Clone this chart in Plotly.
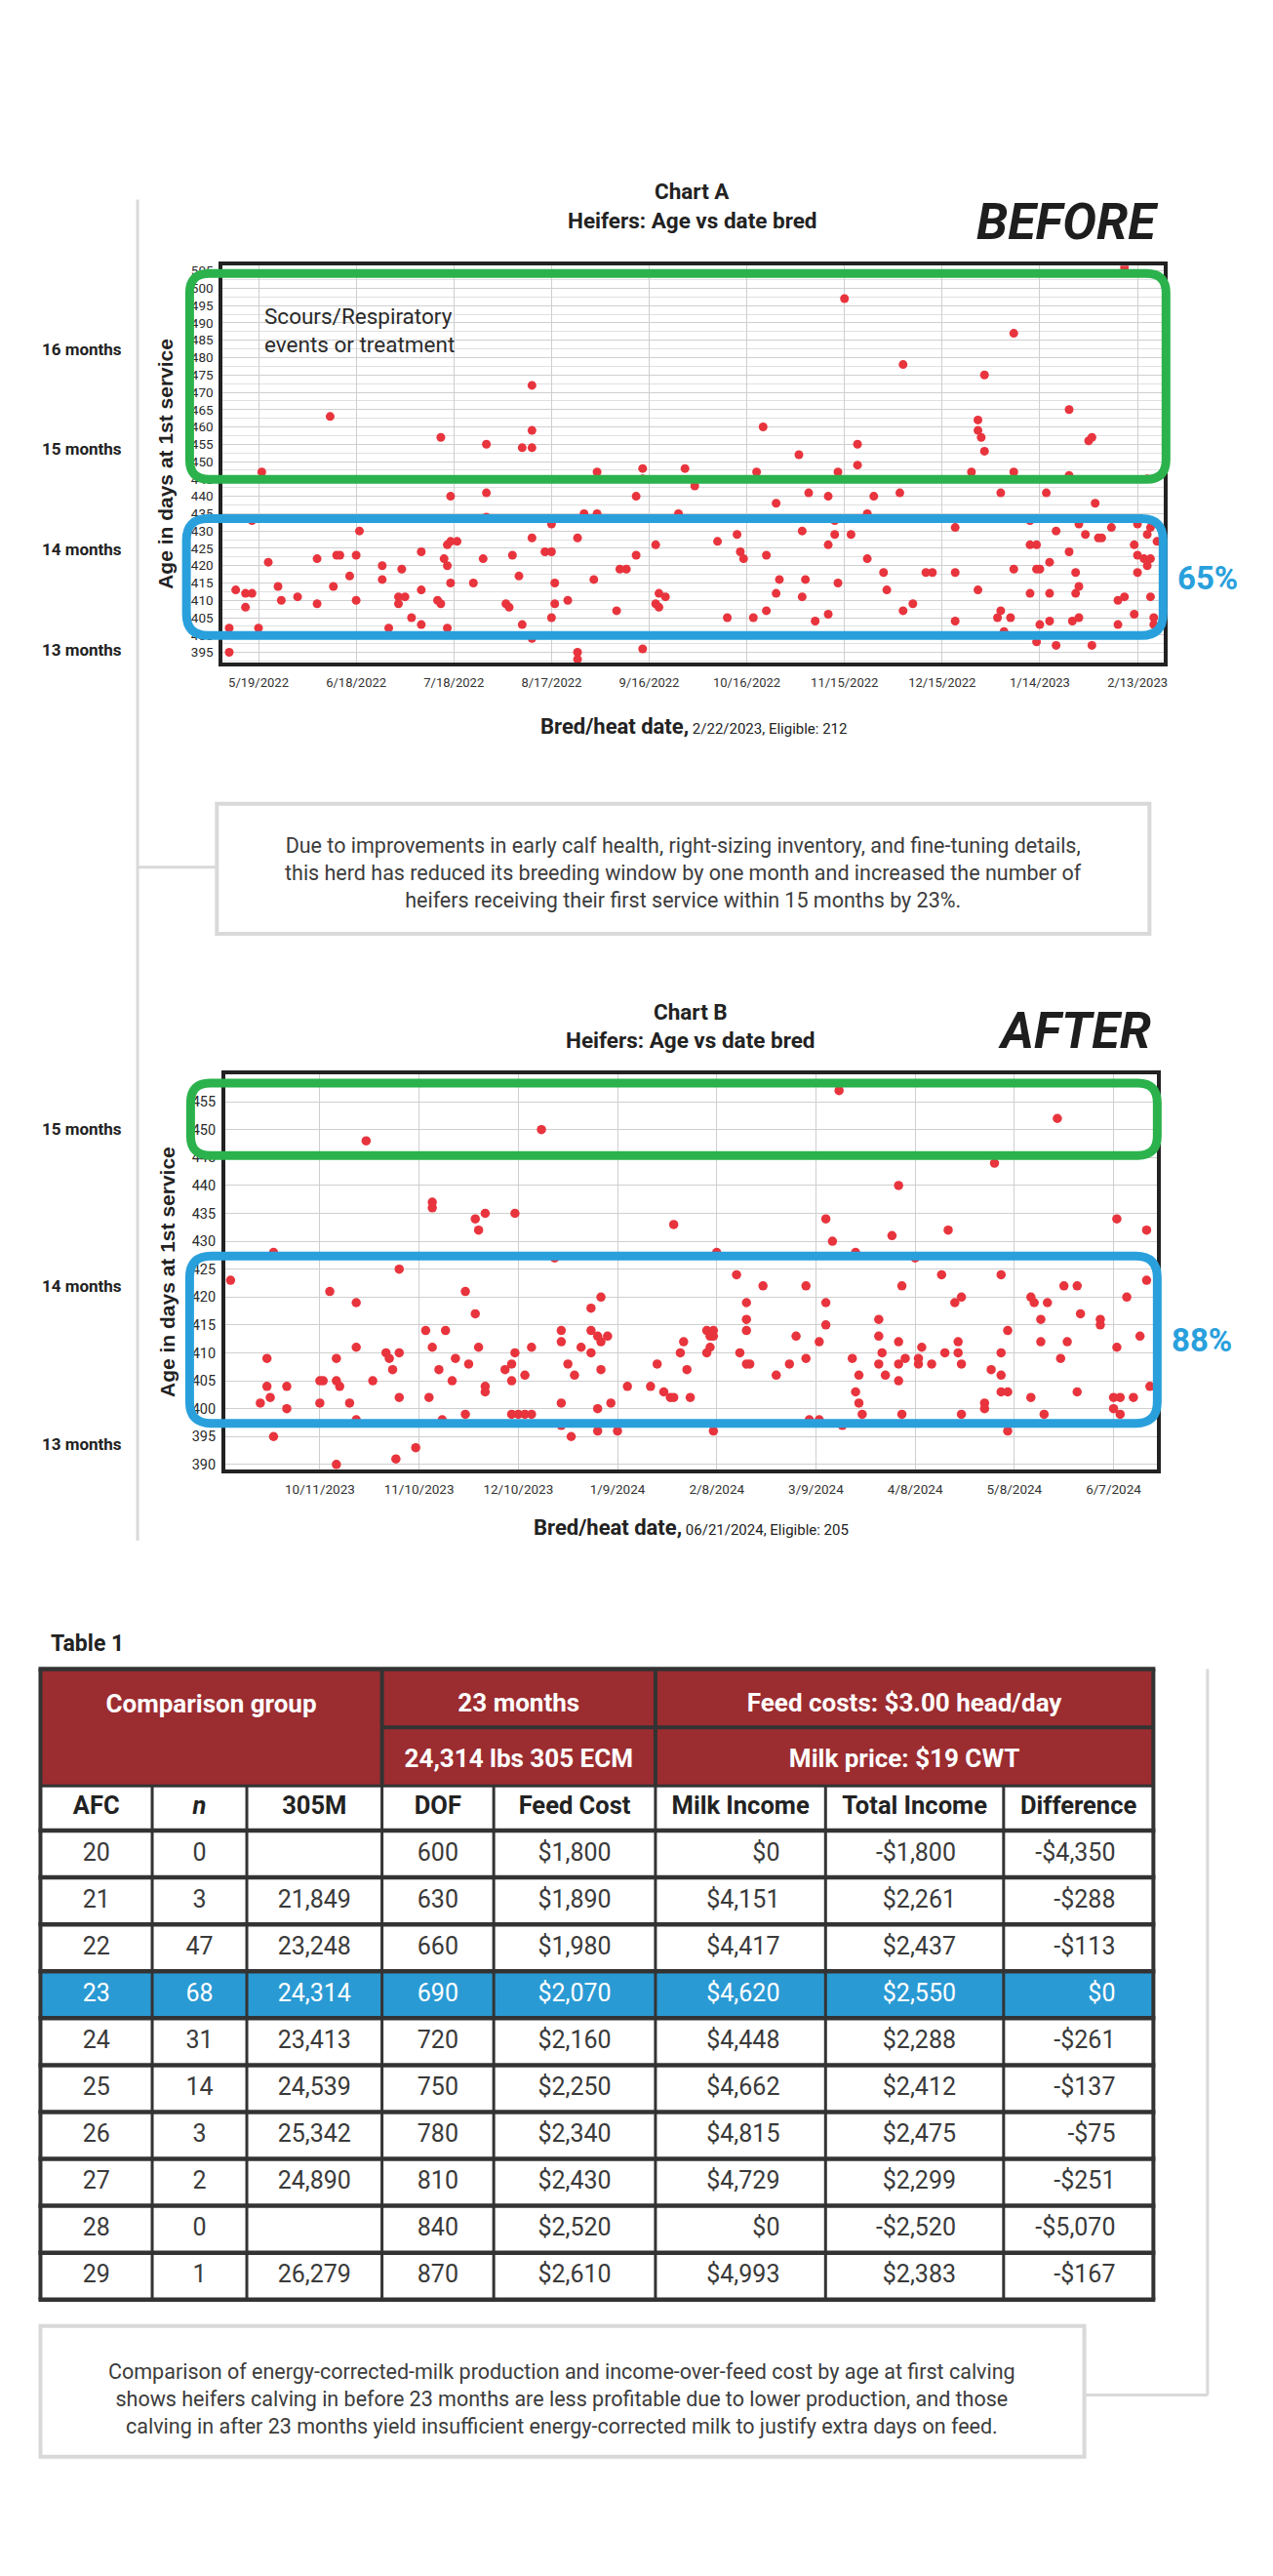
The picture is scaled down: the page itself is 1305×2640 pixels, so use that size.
import plotly.graph_objects as go
import pandas as pd

W, H = 1305, 2640
FONT = "Roboto, Liberation Sans, sans-serif"
ARIAL = "Liberation Sans, Arial, sans-serif"
INK = "#222222"
TXT = "#333333"
DOT = "#e8343d"
GREEN = "#2bb24c"
BLUE = "#29a0dc"
TBLUE = "#2a9ad4"
HDR = "#9b2c30"
GRID = "#cfcfcf"
MINOR = "#e0e0e0"
LGRAY = "#d9d9d9"

# ---------------- Chart A data (before) ----------------
a_tick_labels = ["5/19/2022", "6/18/2022", "7/18/2022", "8/17/2022", "9/16/2022",
                 "10/16/2022", "11/15/2022", "12/15/2022", "1/14/2023", "2/13/2023"]
a_dates = [
    "2022-05-10", "2022-05-10", "2022-05-12", "2022-05-15", "2022-05-15", "2022-05-17", "2022-05-17",
    "2022-05-20", "2022-05-19", "2022-05-22", "2022-05-25", "2022-05-26", "2022-05-31", "2022-06-06",
    "2022-06-06", "2022-06-10", "2022-06-11", "2022-06-12", "2022-06-13", "2022-06-16", "2022-06-18",
    "2022-06-18", "2022-06-19", "2022-06-26", "2022-06-26", "2022-06-28", "2022-07-02", "2022-07-01",
    "2022-07-01", "2022-07-03", "2022-07-05", "2022-07-08", "2022-07-08", "2022-07-08", "2022-07-13",
    "2022-07-14", "2022-07-14", "2022-07-15", "2022-07-16", "2022-07-16", "2022-07-17", "2022-07-19",
    "2022-07-17", "2022-07-17", "2022-07-16", "2022-07-24", "2022-07-27", "2022-07-28", "2022-07-28",
    "2022-07-28", "2022-08-03", "2022-08-04", "2022-08-05", "2022-08-07", "2022-08-08", "2022-08-08",
    "2022-08-11", "2022-08-11", "2022-08-11", "2022-08-11", "2022-08-11", "2022-08-15", "2022-08-17",
    "2022-08-17", "2022-08-18", "2022-08-18", "2022-08-17", "2022-08-22", "2022-08-25", "2022-08-25",
    "2022-08-25", "2022-08-30", "2022-08-27", "2022-08-31", "2022-08-31",
    "2022-09-06", "2022-09-12", "2022-09-14", "2022-09-14", "2022-09-14", "2022-09-18", "2022-09-12",
    "2022-09-07", "2022-09-09", "2022-09-19", "2022-09-21", "2022-09-18", "2022-09-19", "2022-09-25",
    "2022-09-27", "2022-09-30", "2022-10-07", "2022-10-10", "2022-10-13", "2022-10-14", "2022-10-15",
    "2022-10-18", "2022-10-19", "2022-10-21", "2022-10-22", "2022-10-22", "2022-10-25", "2022-10-25",
    "2022-10-26", "2022-11-01", "2022-11-02", "2022-11-02", "2022-11-03", "2022-11-04", "2022-11-06",
    "2022-11-10", "2022-11-10", "2022-11-10", "2022-11-12", "2022-11-12", "2022-11-13", "2022-11-13",
    "2022-11-15", "2022-11-19", "2022-11-19", "2022-11-17", "2022-11-22", "2022-11-22", "2022-11-24",
    "2022-11-27", "2022-11-28", "2022-12-02", "2022-12-03", "2022-12-03", "2022-12-06", "2022-12-10",
    "2022-12-12", "2022-12-19", "2022-12-19", "2022-12-19", "2022-12-24", "2022-12-26", "2022-12-26",
    "2022-12-27", "2022-12-28", "2022-12-28", "2022-12-26", "2023-01-01", "2023-01-02", "2023-01-05",
    "2023-01-03", "2023-01-02", "2023-01-06", "2023-01-06", "2023-01-06", "2023-01-11", "2023-01-13",
    "2023-01-11", "2023-01-11", "2023-01-13", "2023-01-14", "2023-01-16", "2023-01-17", "2023-01-17",
    "2023-01-17", "2023-01-14", "2023-01-13", "2023-01-19", "2023-01-19", "2023-01-23", "2023-01-23",
    "2023-01-23", "2023-01-25", "2023-01-26", "2023-01-25", "2023-01-24", "2023-01-26", "2023-01-26",
    "2023-01-28", "2023-01-29", "2023-01-30", "2023-01-31", "2023-01-30", "2023-02-01", "2023-02-02",
    "2023-02-05", "2023-02-07", "2023-02-09", "2023-02-07", "2023-02-09", "2023-02-12", "2023-02-12",
    "2023-02-13", "2023-02-13", "2023-02-13", "2023-02-15", "2023-02-16", "2023-02-17", "2023-02-16",
    "2023-02-17", "2023-02-19", "2023-02-17", "2023-02-18", "2023-02-18", "2023-02-16",
]
a_ages = [
    402, 395, 413, 408, 412, 412, 433,
    447, 402, 421, 414, 410, 411, 409,
    422, 463, 414, 423, 423, 417, 423,
    410, 430, 420, 416, 402, 419, 409,
    411, 411, 405, 413, 424, 403, 410,
    409, 457, 422, 420, 426, 427, 427,
    440, 415, 402, 415, 422, 455, 441,
    434, 409, 408, 423, 417, 403, 454,
    454, 459, 472, 428, 399, 424, 424,
    432, 415, 409, 405, 410, 428, 395,
    393, 416, 435, 447, 435,
    407, 440, 448, 445, 396, 426, 423,
    419, 419, 412, 411, 409, 408, 435,
    448, 443, 427, 405, 429, 424, 422,
    405, 447, 460, 423, 407, 438, 412,
    416, 452, 430, 411, 416, 441, 404,
    406, 440, 426, 429, 433, 447, 415,
    497, 455, 449, 429, 422, 435, 440,
    418, 413, 441, 478, 407, 409, 418,
    418, 431, 418, 404, 447, 462, 459,
    457, 453, 475, 413, 405, 407, 405,
    401, 441, 447, 487, 419, 426, 426,
    433, 412, 419, 419, 441, 421, 412,
    404, 403, 398, 430, 397, 465, 446,
    424, 418, 414, 412, 404, 405, 432,
    429, 456, 457, 438, 397, 428, 428,
    431, 410, 411, 403, 506, 406, 426,
    423, 418, 432, 422, 420, 422, 429,
    431, 427, 411, 405, 403, 445,
]
a_month_labels = ["16 months", "15 months", "14 months", "13 months"]

# ---------------- Chart B data (after) ----------------
b_tick_labels = ["10/11/2023", "11/10/2023", "12/10/2023", "1/9/2024", "2/8/2024",
                 "3/9/2024", "4/8/2024", "5/8/2024", "6/7/2024"]
b_dates = [
    "2023-09-14", "2023-09-27", "2023-09-25", "2023-09-25", "2023-09-23", "2023-09-26", "2023-09-27",
    "2023-10-01", "2023-10-01", "2023-10-11", "2023-10-12", "2023-10-11", "2023-10-14", "2023-10-16",
    "2023-10-16", "2023-10-17", "2023-10-16", "2023-10-20", "2023-10-22", "2023-10-22", "2023-10-22",
    "2023-10-25", "2023-10-27", "2023-10-31", "2023-11-01", "2023-11-02", "2023-11-04", "2023-11-04",
    "2023-11-04", "2023-11-03", "2023-11-09", "2023-11-12", "2023-11-13", "2023-11-14", "2023-11-14",
    "2023-11-14", "2023-11-16", "2023-11-17", "2023-11-18", "2023-11-20", "2023-11-21", "2023-11-24",
    "2023-11-24", "2023-11-25", "2023-11-27", "2023-11-28", "2023-11-30", "2023-11-27", "2023-11-28",
    "2023-11-30", "2023-11-30", "2023-12-06", "2023-12-08", "2023-12-08", "2023-12-09", "2023-12-09",
    "2023-12-08", "2023-12-10", "2023-12-12", "2023-12-14", "2023-12-12", "2023-12-14", "2023-12-17",
    "2023-12-21", "2023-12-23", "2023-12-23", "2023-12-25", "2023-12-27", "2023-12-23", "2023-12-23",
    "2023-12-26", "2023-12-29", "2024-01-01", "2024-01-01", "2024-01-01", "2024-01-04", "2024-01-03",
    "2024-01-04", "2024-01-06", "2024-01-04", "2024-01-03", "2024-01-03", "2024-01-07", "2024-01-09",
    "2024-01-12",
    "2024-01-19", "2024-01-21", "2024-01-23", "2024-01-25", "2024-01-26", "2024-01-26", "2024-01-29",
    "2024-01-28", "2024-01-30", "2024-01-31", "2024-02-05", "2024-02-07", "2024-02-06", "2024-02-07",
    "2024-02-06", "2024-02-05", "2024-02-08", "2024-02-07", "2024-02-14", "2024-02-17", "2024-02-17",
    "2024-02-17", "2024-02-15", "2024-02-17", "2024-02-18", "2024-02-22", "2024-02-26", "2024-03-01",
    "2024-03-03", "2024-03-06", "2024-03-06", "2024-03-07", "2024-03-10", "2024-03-10", "2024-03-12",
    "2024-03-12", "2024-03-12", "2024-03-14", "2024-03-17", "2024-03-16", "2024-03-20", "2024-03-21",
    "2024-03-22", "2024-03-21", "2024-03-22", "2024-03-23", "2024-03-28", "2024-03-28", "2024-03-29",
    "2024-03-28", "2024-03-30", "2024-04-03", "2024-04-01", "2024-04-04", "2024-04-03", "2024-04-03",
    "2024-04-05", "2024-04-03", "2024-04-04", "2024-04-08", "2024-04-10", "2024-04-09", "2024-04-09",
    "2024-04-13", "2024-04-16", "2024-04-17", "2024-04-18", "2024-04-20", "2024-04-22", "2024-04-21",
    "2024-04-21", "2024-04-22", "2024-04-22", "2024-05-01", "2024-05-04", "2024-05-02", "2024-04-29",
    "2024-04-29", "2024-05-04", "2024-05-06", "2024-05-04", "2024-05-04", "2024-05-06", "2024-05-06",
    "2024-05-13", "2024-05-14", "2024-05-18", "2024-05-23", "2024-05-27", "2024-05-21", "2024-05-16",
    "2024-05-16", "2024-05-24", "2024-05-22", "2024-05-28", "2024-06-03", "2024-06-03", "2024-05-27",
    "2024-05-13", "2024-05-17", "2024-06-08", "2024-06-11", "2024-06-17", "2024-06-17", "2024-06-08",
    "2024-06-15", "2024-06-07", "2024-06-09", "2024-06-13", "2024-06-07", "2024-06-09", "2024-06-18",
]
b_ages = [
    423, 428, 409, 404, 401, 402, 395,
    404, 400, 405, 405, 401, 421, 409,
    405, 404, 390, 401, 419, 411, 398,
    448, 405, 410, 409, 407, 425, 410,
    402, 391, 393, 414, 402, 437, 436,
    411, 407, 398, 414, 405, 409, 421,
    399, 408, 434, 432, 435, 417, 411,
    404, 403, 407, 408, 405, 410, 435,
    399, 399, 399, 399, 406, 411, 450,
    427, 414, 412, 408, 406, 401, 397,
    395, 411, 418, 414, 410, 420, 413,
    412, 413, 407, 400, 396, 401, 396,
    404,
    404, 408, 403, 402, 402, 433, 412,
    410, 407, 402, 414, 414, 413, 413,
    411, 410, 428, 396, 424, 419, 416,
    414, 410, 408, 408, 422, 406, 408,
    413, 422, 409, 398, 398, 412, 419,
    415, 434, 430, 397, 457, 409, 428,
    406, 403, 401, 399, 416, 413, 410,
    408, 406, 440, 431, 422, 412, 408,
    409, 405, 399, 427, 411, 409, 408,
    408, 424, 410, 432, 419, 420, 412,
    410, 408, 399, 407, 406, 444, 401,
    400, 424, 414, 410, 403, 403, 396,
    420, 419, 419, 422, 422, 452, 416,
    412, 412, 409, 417, 416, 415, 403,
    402, 399, 434, 420, 432, 423, 411,
    413, 402, 402, 402, 400, 399, 404,
]
b_month_labels = ["15 months", "14 months", "13 months"]

# ---------------- Table 1 data ----------------
afc = [20, 21, 22, 23, 24, 25, 26, 27, 28, 29]
n_heifers = [0, 3, 47, 68, 31, 14, 3, 2, 0, 1]
m305 = [None, 21849, 23248, 24314, 23413, 24539, 25342, 24890, None, 26279]
dof = [600, 630, 660, 690, 720, 750, 780, 810, 840, 870]
feed_cost = [1800, 1890, 1980, 2070, 2160, 2250, 2340, 2430, 2520, 2610]
milk_income = [0, 4151, 4417, 4620, 4448, 4662, 4815, 4729, 0, 4993]
total_income = [-1800, 2261, 2437, 2550, 2288, 2412, 2475, 2299, -2520, 2383]
difference = [-4350, -288, -113, 0, -261, -137, -75, -251, -5070, -167]
col_labels = ["AFC", "<i>n</i>", "305M", "DOF", "Feed Cost", "Milk Income", "Total Income", "Difference"]
group_labels = ["Comparison group", "23 months", "Feed costs: $3.00 head/day"]
group_sub_labels = ["", "24,314 lbs 305 ECM", "Milk price: $19 CWT"]
highlight_afc = 23

caption_1 = ["Due to improvements in early calf health, right-sizing inventory, and fine-tuning details,",
             "this herd has reduced its breeding window by one month and increased the number of",
             "heifers receiving their first service within 15 months by 23%."]
caption_2 = ["Comparison of energy-corrected-milk production and income-over-feed cost by age at first calving",
             "shows heifers calving in before 23 months are less profitable due to lower production, and those",
             "calving in after 23 months yield insufficient energy-corrected milk to justify extra days on feed."]

assert len(a_dates) == len(a_ages)
assert len(b_dates) == len(b_ages)

# ---------------- layout geometry (pixels) ----------------
A_PLOT = (229, 270, 1197, 678)
A_XRANGE = ["2022-05-08", "2023-02-21 04:00"]
A_YRANGE = [392, 506.5]
B_PLOT = (231.7, 1101, 1189.4, 1507)
B_XRANGE = ["2023-09-12 10:00", "2024-06-20 01:00"]
B_YRANGE = [389.1, 459.9]
A_MONTH_Y = [356, 458.6, 561, 664.6]
B_MONTH_Y = [1157.5, 1318, 1480.7]


def fx(x):
    return x / W


def fy(y):
    return 1 - y / H


def label(text, x, y, size, color=INK, family=FONT, xanchor="center", yanchor="middle", angle=0):
    return dict(text=text, x=fx(x), y=fy(y), xref="paper", yref="paper", showarrow=False,
                font=dict(family=family, size=size, color=color), xanchor=xanchor,
                yanchor=yanchor, textangle=angle, align="center")


def rrect_path(x0, y0, x1, y1, r):
    def P(x, y):
        return f"{fx(x):.6f},{fy(y):.6f}"
    return (f"M {P(x0 + r, y0)} L {P(x1 - r, y0)} Q {P(x1, y0)} {P(x1, y0 + r)} "
            f"L {P(x1, y1 - r)} Q {P(x1, y1)} {P(x1 - r, y1)} L {P(x0 + r, y1)} "
            f"Q {P(x0, y1)} {P(x0, y1 - r)} L {P(x0, y0 + r)} Q {P(x0, y0)} {P(x0 + r, y0)} Z")


def pline(x0, y0, x1, y1, color=LGRAY, width=3):
    return dict(type="line", xref="paper", yref="paper", x0=fx(x0), y0=fy(y0), x1=fx(x1), y1=fy(y1),
                line=dict(color=color, width=width), layer="below")


def prect(x0, y0, x1, y1, color=LGRAY, width=4, fill="white"):
    return dict(type="rect", xref="paper", yref="paper", x0=fx(x0), y0=fy(y0), x1=fx(x1), y1=fy(y1),
                line=dict(color=color, width=width), fillcolor=fill, layer="below")


def box(x0, y0, x1, y1, r, color):
    return dict(type="path", xref="paper", yref="paper", path=rrect_path(x0, y0, x1, y1, r),
                line=dict(color=color, width=9), layer="above")


def money(v):
    return ("-" if v < 0 else "") + "$" + f"{abs(v):,}"


fig = go.Figure()

fig.add_trace(go.Scatter(x=a_dates, y=a_ages, mode="markers", xaxis="x", yaxis="y",
                         marker=dict(size=9, color=DOT), hoverinfo="skip", showlegend=False))
fig.add_trace(go.Scatter(x=b_dates, y=b_ages, mode="markers", xaxis="x2", yaxis="y2",
                         marker=dict(size=9.5, color=DOT), hoverinfo="skip", showlegend=False))

common = dict(showgrid=True, gridcolor=GRID, gridwidth=1, showline=True, linecolor=INK, linewidth=4,
              mirror=True, ticks="", zeroline=False, fixedrange=True)

a_tickvals = [d.strftime("%Y-%m-%d") for d in pd.to_datetime(a_tick_labels, format="%m/%d/%Y")]
b_tickvals = [d.strftime("%Y-%m-%d") for d in pd.to_datetime(b_tick_labels, format="%m/%d/%Y")]

layout_axes = dict(
    xaxis=dict(domain=[fx(A_PLOT[0]), fx(A_PLOT[2])], anchor="y", type="date", range=A_XRANGE,
               tickmode="array", tickvals=a_tickvals, ticktext=a_tick_labels, ticklabelstandoff=5,
               tickfont=dict(family=FONT, size=13, color=TXT), **common),
    yaxis=dict(domain=[fy(A_PLOT[3]), fy(A_PLOT[1])], anchor="x", range=A_YRANGE, tick0=395, dtick=5,
               minor=dict(dtick=2.5, showgrid=True, gridcolor=MINOR, gridwidth=1),
               ticklabelstandoff=3, tickfont=dict(family=FONT, size=13.5, color="#2a2a2a"), **common),
    xaxis2=dict(domain=[fx(B_PLOT[0]), fx(B_PLOT[2])], anchor="y2", type="date", range=B_XRANGE,
                tickmode="array", tickvals=b_tickvals, ticktext=b_tick_labels, ticklabelstandoff=5,
                tickfont=dict(family=FONT, size=13.5, color=TXT), **common),
    yaxis2=dict(domain=[fy(B_PLOT[3]), fy(B_PLOT[1])], anchor="x2", range=B_YRANGE, tick0=390, dtick=5,
                ticklabelstandoff=3, tickfont=dict(family=FONT, size=14.5, color="#2a2a2a"), **common),
)

# ---------------- Table via its own axis (1 unit = 1 px) ----------------
TX0, TX1, TY0, TY1 = 36, 1192, 1706, 2366
TBL_COLS = [41.6, 156.5, 253.8, 392.8, 507.7, 674.0, 848.9, 1032.0, 1186.0]
TBL_TOP, TBL_HMID, TBL_HBOT, TBL_CBOT, ROW_H = 1712, 1772, 1832, 1878, 48.2
GROUP_SPANS = [(0, 3), (3, 5), (5, 8)]
ALIGN = ["c", "c", "c", "c", "c", "r", "r", "r"]
RIGHT_PAD = [0, 0, 0, 0, 0, 47, 49, 39]

layout_axes["xaxis3"] = dict(domain=[fx(TX0), fx(TX1)], range=[TX0, TX1], anchor="y3", visible=False, fixedrange=True)
layout_axes["yaxis3"] = dict(domain=[fy(TY1), fy(TY0)], range=[TY1, TY0], anchor="x3", visible=False, fixedrange=True)

nrows = len(afc)
row_edges = [TBL_CBOT + i * ROW_H for i in range(nrows + 1)]
L, R = TBL_COLS[0], TBL_COLS[-1]
tshapes = []


def trect(x0, y0, x1, y1, fill):
    return dict(type="rect", xref="x3", yref="y3", x0=x0, y0=y0, x1=x1, y1=y1,
                fillcolor=fill, line=dict(width=0), layer="below")


def tline(x0, y0, x1, y1, width=3, color="#333333"):
    return dict(type="line", xref="x3", yref="y3", x0=x0, y0=y0, x1=x1, y1=y1,
                line=dict(color=color, width=width), layer="below")


tshapes.append(trect(L, TBL_TOP, R, TBL_HBOT, HDR))
for i, a in enumerate(afc):
    if a == highlight_afc:
        tshapes.append(trect(L, row_edges[i], R, row_edges[i + 1], TBLUE))
tshapes.append(tline(L - 2, TBL_TOP, R + 2, TBL_TOP, 4.5))
tshapes.append(tline(TBL_COLS[3], TBL_HMID, R, TBL_HMID, 4))
tshapes.append(tline(L, TBL_HBOT, R, TBL_HBOT, 3))
for yv in row_edges:
    tshapes.append(tline(L - 2, yv, R + 2, yv, 4.5))
tshapes.append(tline(L, TBL_TOP, L, row_edges[-1], 4))
tshapes.append(tline(R, TBL_TOP, R, row_edges[-1], 4))
for s, e in GROUP_SPANS[1:]:
    tshapes.append(tline(TBL_COLS[s], TBL_TOP, TBL_COLS[s], TBL_HBOT, 4))
for c in TBL_COLS[1:-1]:
    tshapes.append(tline(c, TBL_HBOT, c, row_edges[-1], 3))

hx, hy, ht = [], [], []
for (s, e), g, sub in zip(GROUP_SPANS, group_labels, group_sub_labels):
    cx = (TBL_COLS[s] + TBL_COLS[e]) / 2
    hx.append(cx); hy.append(1750 if sub == "" else 1749); ht.append(f"<b>{g}</b>")
    if sub:
        hx.append(cx); hy.append(1806.7); ht.append(f"<b>{sub}</b>")
fig.add_trace(go.Scatter(x=hx, y=hy, text=ht, mode="text", textposition="middle center",
                         textfont=dict(family=FONT, size=26, color="white"),
                         xaxis="x3", yaxis="y3", hoverinfo="skip", showlegend=False, cliponaxis=False))
cx_list = [(TBL_COLS[i] + TBL_COLS[i + 1]) / 2 for i in range(8)]
fig.add_trace(go.Scatter(x=cx_list, y=[1855] * 8, text=[f"<b>{c}</b>" for c in col_labels], mode="text",
                         textposition="middle center", textfont=dict(family=FONT, size=25.5, color=INK),
                         xaxis="x3", yaxis="y3", hoverinfo="skip", showlegend=False, cliponaxis=False))
col_values = [
    [str(v) for v in afc],
    [str(v) for v in n_heifers],
    ["" if v is None else f"{v:,}" for v in m305],
    [str(v) for v in dof],
    [money(v) for v in feed_cost],
    [money(v) for v in milk_income],
    [money(v) for v in total_income],
    [money(v) for v in difference],
]
for mode_align, tpos in (("c", "middle center"), ("r", "middle left")):
    bx, by, bt, bc = [], [], [], []
    for j in range(8):
        if ALIGN[j] != mode_align:
            continue
        xpos = cx_list[j] if mode_align == "c" else TBL_COLS[j + 1] - RIGHT_PAD[j]
        for i in range(nrows):
            bx.append(xpos)
            by.append(row_edges[i] + ROW_H / 2 + 0.5)
            bt.append(col_values[j][i])
            bc.append("white" if afc[i] == highlight_afc else "#3a3a3a")
    fig.add_trace(go.Scatter(x=bx, y=by, text=bt, mode="text", textposition=tpos,
                             textfont=dict(family=FONT, size=25, color=bc),
                             xaxis="x3", yaxis="y3", hoverinfo="skip", showlegend=False, cliponaxis=False))

# ---------------- decorations ----------------
shapes = [
    pline(141.5, 202, 141.5, 1580),
    pline(141.5, 888, 223, 888),
    prect(223, 823, 1182, 956.5),
    pline(1241.7, 1712, 1241.7, 2458),
    pline(1115, 2458, 1241.7, 2458),
    prect(41.6, 2387, 1115, 2521.5),
    box(195, 278, 1199, 489.5, 20, GREEN),
    box(191.7, 530, 1196, 650, 22, BLUE),
    box(196, 1110, 1190, 1184.3, 20, GREEN),
    box(195, 1287.7, 1190, 1459.5, 22, BLUE),
] + tshapes

annotations = [
    label("<b>Chart A</b>", 712, 194, 22.5),
    label("<b>Heifers: Age vs date bred</b>", 712, 224, 22.5),
    label("<b><i>BEFORE</i></b>", 1098, 225, 52, color="#1e1e1e"),
    label("<b>65%</b>", 1242, 591, 33, color=BLUE),
    label("<b>Age in days at 1st service</b>", 170.6, (A_PLOT[1] + A_PLOT[3]) / 2, 21, family=ARIAL, angle=-90),
    label("<b>Bred/heat date,</b><span style='font-size:15px'> 2/22/2023, Eligible: 212</span>",
          (A_PLOT[0] + A_PLOT[2]) / 2, 743, 22),
    dict(label("Scours/Respiratory<br>events or treatment", 270, 336, 22.5, color="#2a2a2a", xanchor="left"), align="left"),
    label("<br>".join(caption_1), 702.5, 894, 21.5, color="#3c3c3c"),
    label("<b>Chart B</b>", 710, 1037, 22.5),
    label("<b>Heifers: Age vs date bred</b>", 710, 1066, 22.5),
    label("<b><i>AFTER</i></b>", 1105, 1056, 52, color="#1e1e1e"),
    label("<b>88%</b>", 1236, 1374, 33, color=BLUE),
    label("<b>Age in days at 1st service</b>", 172, (B_PLOT[1] + B_PLOT[3]) / 2, 21, family=ARIAL, angle=-90),
    label("<b>Bred/heat date,</b><span style='font-size:15px'> 06/21/2024, Eligible: 205</span>",
          (B_PLOT[0] + B_PLOT[2]) / 2, 1567, 22),
    label("<b>Table 1</b>", 50, 1686, 23, xanchor="left"),
    label("<br>".join(caption_2), 578, 2462, 21.5, color="#3c3c3c"),
]
for t, yv in zip(a_month_labels, A_MONTH_Y):
    annotations.append(label(f"<b>{t}</b>", 84, yv, 17))
for t, yv in zip(b_month_labels, B_MONTH_Y):
    annotations.append(label(f"<b>{t}</b>", 84, yv, 17))

fig.update_layout(width=W, height=H, margin=dict(l=0, r=0, t=0, b=0, pad=0),
                  paper_bgcolor="white", plot_bgcolor="rgba(0,0,0,0)", showlegend=False,
                  shapes=shapes, annotations=annotations, **layout_axes)

fig.write_html("out.html")
